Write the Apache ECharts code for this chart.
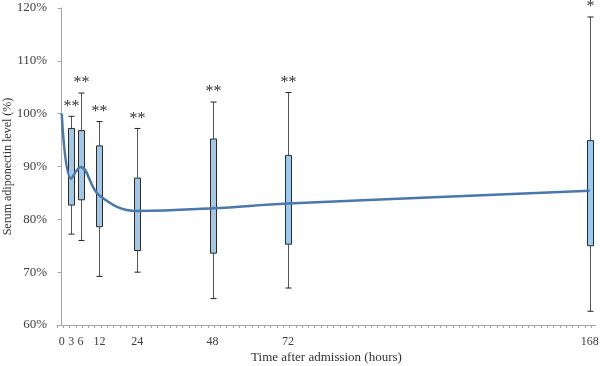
<!DOCTYPE html>
<html>
<head>
<meta charset="utf-8">
<script src="https://cdn.jsdelivr.net/npm/echarts@6/dist/echarts.min.js"></script>
<style>
    html, body { margin: 0; padding: 0; background: #fff; }
    #main { width: 600px; height: 366px; }
</style>
</head>
<body>
<div id="main"></div>
<script>
// mean curve
var hours = [0, 3, 6, 12, 24, 48, 72, 168];
var meanLevel = [100, 87.7, 89.9, 84.5, 81.6, 82.1, 83.0, 85.4];

// boxes (whisker low, Q1, Q3, whisker high)
var boxHours = [3, 6, 12, 24, 48, 72, 168];
var whiskerLow = [77.2, 76.0, 69.2, 70.0, 65.0, 67.0, 62.6];
var q1 = [82.7, 83.7, 78.6, 74.1, 73.6, 75.3, 75.0];
var q3 = [97.2, 96.8, 93.9, 87.8, 95.2, 92.1, 94.9];
var whiskerHigh = [99.5, 103.9, 98.5, 97.2, 102.2, 104.0, 118.3];
var marks = ['**', '**', '**', '**', '**', '**', '*'];

var xLabels = [0, 3, 6, 12, 24, 48, 72, 168];

var xTicks = [];
for (var t = -1.5; t <= 169; t += 2) {
    xTicks.push(t);
}

var serif = '"Liberation Serif", "DejaVu Serif", serif';

var boxData = boxHours.map(function (h, i) {
    return [h, whiskerLow[i], q1[i], q3[i], whiskerHigh[i]];
});
var lineData = hours.map(function (h, i) {
    return [h, meanLevel[i]];
});

var dom = document.getElementById('main');
var myChart = echarts.init(dom);
option = {
    animation: false,
    grid: {
        left: 57,
        right: 4,
        top: 8,
        bottom: 41,
        containLabel: false,
        outerBoundsMode: 'none'
    },
    xAxis: {
        type: 'value',
        min: -1.5,
        max: 170,
        name: 'Time after admission (hours)',
        nameLocation: 'middle',
        nameGap: 26,
        nameMoveOverlap: false,
        nameTextStyle: {
            fontFamily: serif,
            fontSize: 13,
            color: '#333'
        },
        axisLine: {
            show: true,
            lineStyle: { color: '#a6a6a6', width: 1 }
        },
        axisTick: {
            show: true,
            length: 3,
            customValues: xTicks,
            lineStyle: { color: '#a6a6a6' }
        },
        axisLabel: {
            customValues: xLabels,
            margin: 11,
            fontFamily: serif,
            fontSize: 12,
            color: '#404040'
        },
        splitLine: { show: false }
    },
    yAxis: {
        type: 'value',
        min: 60,
        max: 120,
        interval: 10,
        name: 'Serum adiponectin level (%)',
        nameLocation: 'middle',
        nameGap: 43,
        nameMoveOverlap: false,
        nameTextStyle: {
            fontFamily: serif,
            fontSize: 12,
            color: '#333'
        },
        axisLine: {
            show: true,
            lineStyle: { color: '#a6a6a6', width: 1 }
        },
        axisTick: {
            show: true,
            length: 4,
            lineStyle: { color: '#a6a6a6' }
        },
        axisLabel: {
            formatter: '{value}%',
            margin: 10,
            fontFamily: serif,
            fontSize: 13,
            color: '#404040'
        },
        splitLine: { show: false }
    },
    series: [
        {
            type: 'custom',
            data: boxData,
            z: 2,
            renderItem: function (params, api) {
                var x = api.value(0);
                var lo = api.coord([x, api.value(1)]);
                var b1 = api.coord([x, api.value(2)]);
                var b3 = api.coord([x, api.value(3)]);
                var hi = api.coord([x, api.value(4)]);
                var cx = Math.round(hi[0]) + 0.5;
                var w = 6;
                return {
                    type: 'group',
                    children: [
                        {
                            type: 'line',
                            shape: { x1: cx, y1: hi[1], x2: cx, y2: b3[1] },
                            style: { stroke: '#555', lineWidth: 1 }
                        },
                        {
                            type: 'line',
                            shape: { x1: cx, y1: lo[1], x2: cx, y2: b1[1] },
                            style: { stroke: '#555', lineWidth: 1 }
                        },
                        {
                            type: 'line',
                            shape: { x1: cx - 3, y1: hi[1], x2: cx + 3, y2: hi[1] },
                            style: { stroke: '#222', lineWidth: 1 }
                        },
                        {
                            type: 'line',
                            shape: { x1: cx - 3, y1: lo[1], x2: cx + 3, y2: lo[1] },
                            style: { stroke: '#222', lineWidth: 1 }
                        },
                        {
                            type: 'rect',
                            shape: { x: cx - w / 2, y: b3[1], width: w, height: b1[1] - b3[1] },
                            style: { fill: '#9dc9ec', stroke: '#2b2b2b', lineWidth: 1 }
                        },
                        {
                            type: 'text',
                            style: {
                                text: marks[params.dataIndex],
                                x: cx,
                                y: hi[1] - 10,
                                align: 'center',
                                verticalAlign: 'middle',
                                font: '16px ' + serif,
                                fill: '#333',
                                letterSpacing: 3
                            }
                        }
                    ]
                };
            }
        },
        {
            type: 'line',
            data: lineData,
            z: 5,
            smooth: 0.4,
            symbol: 'none',
            lineStyle: {
                color: '#4a78ab',
                width: 2.5
            }
        }
    ]
};

if (option && typeof option === "object") {
    myChart.setOption(option, true);
}
</script>
</body>
</html>
